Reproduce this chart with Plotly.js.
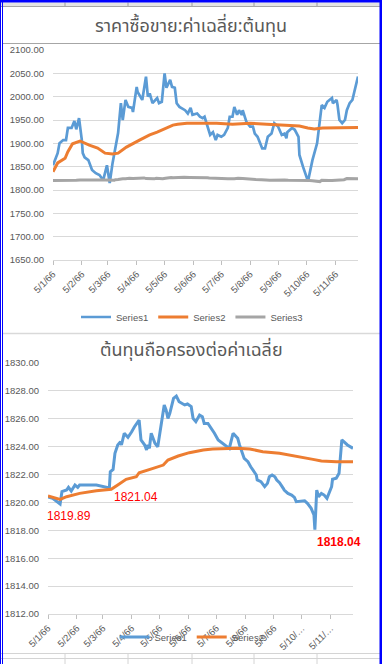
<!DOCTYPE html>
<html>
<head>
<meta charset="utf-8">
<script src="https://cdn.plot.ly/plotly-3.0.1.min.js"></script>
<style>html,body{margin:0;padding:0;background:#fff;}#chart{width:382px;height:664px;}</style>
</head>
<body>
<div id="chart"></div>
<script>
// ---------- Chart 1 data ----------
const c1Title = 'ราคาซื้อขาย:ค่าเฉลี่ย:ต้นทุน';
const c1TickVals = ['01-05','02-05','03-05','04-05','05-05','06-05','07-05','08-05','09-05','10-05','11-05'];
const c1TickText = ['5/1/66','5/2/66','5/3/66','5/4/66','5/5/66','5/6/66','5/7/66','5/8/66','5/9/66','5/10/66','5/11/66'];

const c1S1Dates = ['01-05','01-10','01-12','01-16','01-19','01-21','01-25','01-28','01-30','02-02','02-05','02-06','02-08','02-12','02-16','02-20','02-24','02-28',
'03-04','03-07','03-10','03-15','03-16','03-19','03-21','03-24','03-27','03-31','04-01','04-05','04-06','04-11','04-12','04-15','04-17','04-19','04-22','04-27','04-29',
'05-02','05-05','05-07','05-11','05-13','05-16','05-18','05-21','05-27','05-30','06-02','06-04','06-09','06-12','06-15','06-17','06-19','06-23','06-26','06-29',
'07-01','07-05','07-08','07-11','07-12','07-14','07-17','07-19','07-22','07-24','07-27','07-28','08-01','08-05','08-08','08-10','08-13','08-18','08-21','08-24','08-28','08-31',
'09-04','09-08','09-11','09-13','09-14','09-19','09-22','09-26','09-27','10-01','10-05','10-07','10-11','10-16','10-19','10-21','10-24','10-27',
'11-01','11-02','11-06','11-07','11-09','11-12','11-15','11-17','11-20','11-23','11-25','11-29'];
const c1S1Vals = [1853,1879,1900,1907,1907,1933,1933,1948,1930,1954,1907,1879,1870,1864,1843,1836,1832,1821,
1853,1815,1857,1914,1922,1986,1950,1993,1978,1976,1967,2021,2010,1993,2004,2043,2000,2007,1986,1997,1986,
1989,2050,2019,2036,2021,2019,1986,1978,1971,1964,1976,1961,1964,1957,1954,1957,1943,1918,1924,1907,
1918,1914,1918,1929,1933,1957,1957,1978,1961,1971,1961,1971,1946,1936,1936,1921,1914,1889,1889,1914,1921,1943,
1936,1918,1921,1911,1924,1933,1929,1914,1875,1849,1826,1826,1864,1900,1950,1982,1976,1989,
1997,1986,1993,1982,1950,1943,1950,1971,1986,1993,2010,2043];

const c1S2Dates = ['01-05','01-10','01-18','01-21','01-26','02-03','02-13','02-22','03-02','03-10','03-16','03-25','04-08','04-19','04-27',
'05-07','05-14','05-19','05-29','06-12','06-30','07-17','08-05','08-23','09-09','09-27','10-06','10-13','10-22','11-02','11-29'];
const c1S2Vals = [1839,1858,1868,1882,1899,1905,1896,1890,1879,1877,1879,1892,1907,1918,1924,
1933,1939,1941,1943,1943,1943,1941,1943,1941,1939,1937,1933,1931,1933,1933,1934];

// ---------- Chart 2 data ----------
const c2Title = 'ต้นทุนถือครองต่อค่าเฉลี่ย';
const c2TickVals = c1TickVals;
const c2TickText = ['5/1/66','5/2/66','5/3/66','5/4/66','5/5/66','5/6/66','5/7/66','5/8/66','5/9/66','5/10/…','5/11/…'];

const c2S1Dates = ['01-05','01-10','01-18','01-20','01-25','01-27','01-30','02-03','02-06','02-08','02-26','03-02','03-12','03-13','03-16','03-18','03-21','03-24','03-25','03-28',
'04-01','04-05','04-08','04-13','04-15','04-19','04-21','04-22','04-24','04-26','04-30','05-03','05-06','05-10','05-12','05-14','05-16','05-20','05-23','05-26',
'06-01','06-04','06-08','06-10','06-13','06-17','06-20','06-22','06-26','06-30','07-03','07-07','07-12','07-19','07-23','07-28','07-30',
'08-04','08-08','08-11','08-17','08-18','08-22','08-26','08-29','08-31','09-03','09-06','09-08','09-11','09-15','09-16','09-20','09-24','09-27','09-29',
'10-08','10-11','10-15','10-18','10-19','10-21','10-23','10-26','10-29','11-01','11-06','11-07','11-11','11-14','11-17','11-23','11-29'];
const c2S1Vals = [1820.40,1820.29,1819.89,1820.77,1820.89,1821.08,1820.82,1821.25,1821.08,1821.25,1821.25,1821.18,1821.04,1822.20,1822.37,1823.52,1824.12,1824.35,1824.12,1824.96,
1824.67,1825.07,1825.43,1825.91,1824.48,1824.12,1823.76,1824.12,1823.88,1824.96,1824.24,1824.00,1825.19,1826.99,1826.63,1826.03,1826.39,1827.47,1827.63,1827.22,
1826.99,1827.06,1826.87,1826.03,1825.79,1826.27,1826.15,1825.67,1825.67,1825.31,1824.96,1824.48,1824.24,1823.88,1824.96,1824.60,1824.12,
1823.16,1822.92,1822.56,1821.97,1821.61,1821.49,1821.13,1821.37,1821.84,1821.97,1821.84,1821.61,1821.41,1821.01,1820.89,1820.65,1820.53,1820.36,1820.05,
1820.12,1819.94,1819.58,1819.10,1818.04,1820.89,1820.41,1820.65,1820.53,1820.29,1821.13,1821.66,1821.73,1822.09,1824.48,1824.12,1823.88];

const c2S2Dates = ['01-05','01-18','01-25','02-08','02-26','03-14','03-21','03-30','04-10','04-13','04-28','05-09','05-14','05-25','06-06','06-21','07-01','07-27','08-10','08-24','09-11','09-29','10-17','10-26','11-11','11-29'];
const c2S2Vals = [1820.46,1820.22,1820.41,1820.65,1820.84,1820.94,1821.25,1821.66,1821.84,1822.13,1822.44,1822.68,1823.04,1823.33,1823.57,1823.76,1823.83,1823.88,1823.83,1823.64,1823.52,1823.33,1823.09,1822.97,1822.92,1822.92];

const c2LabelDates = ['01-18','03-12','10-19'];

const seriesNames = ['Series1','Series2','Series3'];
const colors = ['#5B9BD5','#ED7D31','#A5A5A5'];

// ---------- helpers ----------
const Y = '2023-';
const d = a => a.map(s => Y + s);
const W = 382, H = 664;
const px = x => x / W;
const py = y => 1 - y / H;
const tickFont = {family: 'Liberation Sans, Arial, sans-serif', size: 9.5, color: '#595959'};

const traces = [
  {x: d(c1S1Dates), y: c1S1Vals, name: seriesNames[0], type: 'scatter', mode: 'lines', line: {color: colors[0], width: 2.7}, xaxis: 'x', yaxis: 'y', legend: 'legend'},
  {x: d(c1S2Dates), y: c1S2Vals, name: seriesNames[1], type: 'scatter', mode: 'lines', line: {color: colors[1], width: 3}, xaxis: 'x', yaxis: 'y', legend: 'legend'},
  {x: d(c2S1Dates), y: c2S1Vals, name: seriesNames[2], type: 'scatter', mode: 'lines', line: {color: colors[2], width: 3}, xaxis: 'x', yaxis: 'y', legend: 'legend'},
  {x: d(c2S1Dates), y: c2S1Vals, name: seriesNames[0], type: 'scatter', mode: 'lines', line: {color: colors[0], width: 3}, xaxis: 'x2', yaxis: 'y2', legend: 'legend2'},
  {x: d(c2S2Dates), y: c2S2Vals, name: seriesNames[1], type: 'scatter', mode: 'lines', line: {color: colors[1], width: 3}, xaxis: 'x2', yaxis: 'y2', legend: 'legend2'}
];

// data labels on chart 2
const labelStyle = [
  {xanchor: 'center', xshift: 9, yshift: -12, bold: false},
  {xanchor: 'left', xshift: 3, yshift: -9, bold: false},
  {xanchor: 'left', xshift: 0, yshift: -12, bold: true}
];
const annotations = c2LabelDates.map((ld, i) => {
  const idx = c2S1Dates.indexOf(ld);
  const v = c2S1Vals[idx];
  const st = labelStyle[i];
  return {x: Y + ld, y: v, xref: 'x2', yref: 'y2', showarrow: false,
    text: st.bold ? '<b>' + v.toFixed(2) + '</b>' : v.toFixed(2),
    font: {family: 'Liberation Sans, Arial, sans-serif', size: 12, color: '#FF0000'},
    xanchor: st.xanchor, yanchor: 'middle', xshift: st.xshift, yshift: st.yshift};
});
const titleFont = {family: 'Noto Sans Thai, Tahoma, Noto Sans, sans-serif', size: 18, color: '#595959'};
annotations.push({text: c1Title, xref: 'paper', yref: 'paper', x: px(191), y: py(27), showarrow: false, xanchor: 'center', yanchor: 'middle', font: titleFont});
annotations.push({text: c2Title, xref: 'paper', yref: 'paper', x: px(191), y: py(350), showarrow: false, xanchor: 'center', yanchor: 'middle', font: titleFont});

// sheet / frame decorations
const shapes = [];
const line = (x0, y0, x1, y1, color, w) => shapes.push({type: 'line', xref: 'paper', yref: 'paper', x0: px(x0), y0: py(y0), x1: px(x1), y1: py(y1), line: {color: color, width: w}});
const rect = (x0, y0, x1, y1, fill) => shapes.push({type: 'rect', xref: 'paper', yref: 'paper', x0: px(x0), y0: py(y0), x1: px(x1), y1: py(y1), fillcolor: fill, line: {width: 0}});
rect(0, 2.5, 382, 6, '#e4e4e4');
[65, 128, 192, 254, 317].forEach(x => line(x, 2.5, x, 6, '#9e9e9e', 1));
line(0, 6.5, 382, 6.5, '#a6a6a6', 1);
line(3, 43.5, 380, 43.5, '#a6a6a6', 1);
line(3, 333.5, 380, 333.5, '#d9d9d9', 1.5);
line(0, 653.5, 382, 653.5, '#d4d4d4', 1);
line(0, 658.5, 382, 658.5, '#d4d4d4', 1);
[65, 128, 192, 254, 317].forEach(x => line(x, 653.5, x, 664, '#d4d4d4', 1));
rect(0, 0, 382, 2.5, '#0000ff');
rect(379.5, 0, 382, 664, '#0000ff');
line(0.5, 0, 0.5, 664, '#0000ff', 1);
line(2.5, 0, 2.5, 664, '#0000ff', 1);

const xCommon = {type: 'date', tickangle: -45, ticks: 'outside', ticklen: 4, tickcolor: '#bfbfbf',
  showline: true, linecolor: '#d9d9d9', showgrid: false, zeroline: false, tickfont: tickFont, fixedrange: true};
const yCommon = {tickformat: '.2f', gridcolor: '#d9d9d9', gridwidth: 1, showline: false, zeroline: false, ticks: '',
  tickfont: tickFont, ticklabelstandoff: 8, fixedrange: true};

const layout = {
  width: W, height: H, margin: {l: 0, r: 0, t: 0, b: 0},
  paper_bgcolor: '#ffffff', plot_bgcolor: '#ffffff',
  showlegend: true,
  xaxis: Object.assign({}, xCommon, {domain: [px(53), px(358)], range: [Y + '01-05', Y + '11-29'], anchor: 'y',
    tickvals: d(c1TickVals), ticktext: c1TickText}),
  yaxis: Object.assign({}, yCommon, {domain: [py(260), py(50)], range: [1650, 2100], dtick: 50, anchor: 'x'}),
  xaxis2: Object.assign({}, xCommon, {domain: [px(48), px(353)], range: [Y + '01-05', Y + '11-29'], anchor: 'y2',
    tickvals: d(c2TickVals), ticktext: c2TickText}),
  yaxis2: Object.assign({}, yCommon, {domain: [py(614), py(363)], range: [1812, 1830], dtick: 2, anchor: 'x2'}),
  legend: {orientation: 'h', x: px(192), xanchor: 'center', y: py(317), yanchor: 'middle', bgcolor: 'rgba(0,0,0,0)',
    font: tickFont, itemwidth: 30},
  legend2: {orientation: 'h', x: px(192), xanchor: 'center', y: py(637), yanchor: 'middle', bgcolor: 'rgba(0,0,0,0)',
    font: tickFont, itemwidth: 30},
  annotations: annotations,
  shapes: shapes
};

Plotly.newPlot('chart', traces, layout, {staticPlot: true, displayModeBar: false});
</script>
</body>
</html>
